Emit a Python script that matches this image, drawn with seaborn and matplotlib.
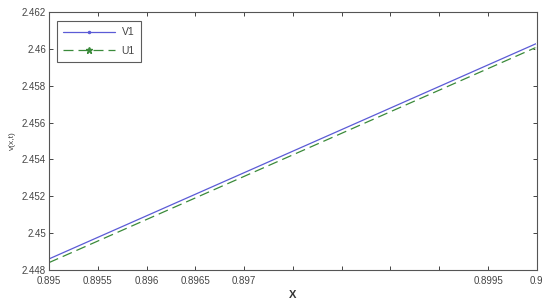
import numpy as np
import matplotlib.pyplot as plt
import seaborn as sns
import pandas as pd
from matplotlib.lines import Line2D

x = [0.895, 0.9]
v1 = [2.4486, 2.4603]
u1 = [2.4484, 2.4601]

xticks = [0.895, 0.8955, 0.896, 0.8965, 0.897, 0.8975, 0.898, 0.8985, 0.899, 0.8995, 0.9]
xticklabels = ['0.895', '0.8955', '0.896', '0.8965', '0.897', '', '', '', '', '0.8995', '0.9']
yticks = [2.448, 2.45, 2.452, 2.454, 2.456, 2.458, 2.46, 2.462]
yticklabels = ['2.448', '2.45', '2.452', '2.454', '2.456', '2.458', '2.46', '2.462']

sns.set_style('ticks')
plt.rcParams['font.family'] = ['Liberation Sans', 'DejaVu Sans']

fig = plt.figure(figsize=(5.5, 3.01), dpi=100)
ax = fig.add_axes([0.089, 0.103, 0.887, 0.857])

blue = '#5b5bd6'
green = '#3a8a3a'
dash = (0, (8, 4))

df = pd.DataFrame({'x': x, 'V1': v1, 'U1': u1})
sns.lineplot(data=df, x='x', y='V1', ax=ax, color=blue, lw=0.9,
             marker='.', markersize=3, markevery=[-1])
sns.lineplot(data=df, x='x', y='U1', ax=ax, color=green, lw=0.9,
             linestyle=dash, marker='*', markersize=5, markevery=[-1])

ax.set_xlim(0.895, 0.9)
ax.set_ylim(2.448, 2.462)
ax.set_xticks(xticks)
ax.set_xticklabels(xticklabels)
ax.set_yticks(yticks)
ax.set_yticklabels(yticklabels)
ax.tick_params(direction='in', top=True, right=True, length=3, width=0.7,
               labelsize=7, colors='#444444')
ax.tick_params(axis='x', pad=4)
ax.tick_params(axis='y', pad=2)
for s in ax.spines.values():
    s.set_linewidth(0.8)
    s.set_color('#555555')

ax.set_xlabel('X', fontsize=8, fontweight='bold', labelpad=3, color='#333333')
ax.set_ylabel('v(x,t)', fontsize=6, labelpad=4, color='#444444')

handles = [Line2D([], [], color=blue, lw=0.9, marker='.', markersize=3),
           Line2D([], [], color=green, lw=0.9, linestyle=dash, marker='*', markersize=5)]
leg = ax.legend(handles, ['V1', 'U1'], loc='upper left', fontsize=7.5,
                frameon=True, fancybox=False, handlelength=5.0,
                borderpad=0.6, labelspacing=0.8, handletextpad=0.6,
                bbox_to_anchor=(0.006, 0.985))
leg.get_frame().set_edgecolor('#333333')
leg.get_frame().set_linewidth(0.8)
for t in leg.get_texts():
    t.set_color('#444444')

fig.savefig('out.png', dpi=100)
